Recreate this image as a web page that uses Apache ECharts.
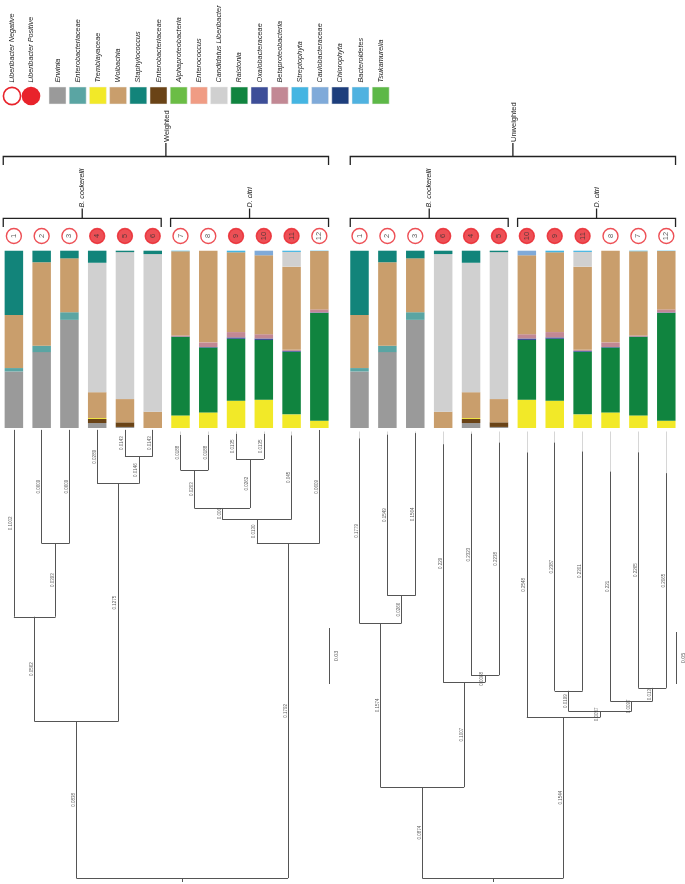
<!DOCTYPE html>
<html><head><meta charset="utf-8">
<script src="https://cdn.jsdelivr.net/npm/echarts@6/dist/echarts.min.js"></script>
<style>html,body{margin:0;padding:0;background:#fff}#c{width:685px;height:884px}</style>
</head><body><div id="c"></div>
<script>
// ---------------- DATA ----------------
const samples = ['1','2','3','4','5','6','7','8','9','10','11','12'];
const positiveSamples = ['4','5','6','9','10','11'];
const weightedOrder = ['1','2','3','4','5','6','7','8','9','10','11','12'];
const unweightedOrder = ['1','2','3','6','4','5','10','9','11','8','7','12'];

// legend order
const taxa = ['Erwinia','Enterobacteriaceae','Tremblayaceae','Wolbachia','Staphylococcus','Enterobacteriaceae ',
  'Alphaproteobacteria','Enterococcus','Candidatus Liberibacter','Ralstonia','Oxalobacteraceae','Betaproteobacteria',
  'Streptophyta','Caulobacteraceae','Chlorophyta','Bacteroidetes','Tsukamurella'];
const taxaColors = ['#9a9a9a','#5aa5a3','#f2e928','#c99e6c','#12847a','#6a4316','#6bbd45','#f09c84','#d0d0d0',
  '#10843f','#3d4e98','#c28894','#44b5e2','#7faad9','#1d3e7c','#4fb2e0','#5db847'];

// relative abundance (%), samples 1..12
const erwinia            = [31.9,42.8,61.0, 2.8, 0.6, 0,   0,   0,   0,   0,   0,   0  ];
const enterobacteriaceae = [ 1.9, 3.6, 4.3, 0,   0,   0,   0,   0,   0,   0,   0,   0  ];
const tremblayaceae      = [ 0,   0,   0,   0.5, 0,   0,   7.1, 8.8,15.4,16.0, 7.7, 4.1];
const wolbachia          = [30.0,47.1,30.4,14.6,13.1, 9.2,47.5,51.7,45.0,44.5,46.9,32.9];
const staphylococcus     = [36.2, 6.6, 4.3, 6.8, 0.8, 1.9, 0,   0,   0,   0,   0,   0  ];
const enterobacteriaceae2= [ 0,   0,   0,   2.3, 2.6, 0,   0,   0,   0,   0,   0,   0  ];
const alphaproteobacteria= [ 0,   0,   0,   0,   0,   0,   0,   0,   0,   0,   0,   0  ];
const enterococcus       = [ 0,   0,   0,   0,   0,   0,   0,   0,   0,   0,   0,   0  ];
const candLiberibacter   = [ 0,   0,   0,  73.0,82.9,88.9, 0,   0,   0,   0,   8.3, 0  ];
const ralstonia          = [ 0,   0,   0,   0,   0,   0,  44.3,36.6,34.9,33.6,35.3,60.8];
const oxalobacteraceae   = [ 0,   0,   0,   0,   0,   0,   0.2, 0.3, 0.8, 0.9, 0.5, 0.3];
const betaproteobacteria = [ 0,   0,   0,   0,   0,   0,   0.6, 2.6, 3.0, 2.4, 0.6, 1.7];
const streptophyta       = [ 0,   0,   0,   0,   0,   0,   0.3, 0,   1.0, 0,   0.7, 0.2];
const caulobacteraceae   = [ 0,   0,   0,   0,   0,   0,   0,   0,   0,   2.6, 0,   0  ];
const chlorophyta        = [ 0,   0,   0,   0,   0,   0,   0,   0,   0,   0,   0,   0  ];
const bacteroidetes      = [ 0,   0,   0,   0,   0,   0,   0,   0,   0,   0,   0,   0  ];
const tsukamurella       = [ 0,   0,   0,   0,   0,   0,   0,   0,   0,   0,   0,   0  ];

const taxaValues = [erwinia,enterobacteriaceae,tremblayaceae,wolbachia,staphylococcus,enterobacteriaceae2,
  alphaproteobacteria,enterococcus,candLiberibacter,ralstonia,oxalobacteraceae,betaproteobacteria,
  streptophyta,caulobacteraceae,chlorophyta,bacteroidetes,tsukamurella];
// stacking order, bottom to top (indices into taxa)
const stackOrder = [0,5,2,9,10,11,1,3,8,4,13,12,14,15,16,6,7];

// UPGMA trees: [node, parent, branch length, label]
const weightedTree = [
  ['root',null,0,''],
  ['Bc','root',0.0838,'0.0838'], ['Dc','root',0.1792,'0.1792'],
  ['n123','Bc',0.0562,'0.0562'], ['n456','Bc',0.1275,'0.1275'],
  ['1','n123',0.1002,'0.1002'], ['n23','n123',0.0393,'0.0393'],
  ['2','n23',0.0609,'0.0609'], ['3','n23',0.0609,'0.0609'],
  ['4','n456',0.0289,'0.0289'], ['n56','n456',0.0146,'0.0146'],
  ['5','n56',0.0143,'0.0143'], ['6','n56',0.0143,'0.0143'],
  ['nI','Dc',0.0130,'0.0130'], ['12','Dc',0.0609,'0.0609'],
  ['nH','nI',0.0061,'0.006'], ['11','nI',0.0450,'0.045'],
  ['nF','nH',0.0203,'0.0203'], ['nG','nH',0.0262,'0.0262'],
  ['7','nF',0.0188,'0.0188'], ['8','nF',0.0188,'0.0188'],
  ['9','nG',0.0135,'0.0135'], ['10','nG',0.0135,'0.0135']
];
const unweightedTree = [
  ['root',null,0,''],
  ['Bc','root',0.0874,'0.0874'], ['Dc','root',0.1544,'0.1544'],
  ['b','Bc',0.1574,'0.1574'], ['d','Bc',0.1007,'0.1007'],
  ['1','b',0.1779,'0.1779'], ['a','b',0.0266,'0.0266'],
  ['2','a',0.1549,'0.1549'], ['3','a',0.1564,'0.1564'],
  ['6','d',0.2290,'0.229'], ['c','d',0.0068,'0.0068'],
  ['4','c',0.2323,'0.2323'], ['5','c',0.2238,'0.2238'],
  ['10','Dc',0.2548,'0.2548'], ['i','Dc',0.0057,'0.0057'],
  ['f','i',0.0199,'0.0199'], ['h','i',0.0097,'0.0097'],
  ['9','f',0.2387,'0.2387'], ['11','f',0.2301,'0.2301'],
  ['8','h',0.2210,'0.221'], ['k','h',0.0130,'0.013'],
  ['7','k',0.2265,'0.2265'], ['12','k',0.2065,'0.2065']
];
const scaleBars = [0.03, 0.05];

// ---------------- LAYOUT ----------------
const FONT = 'Liberation Sans, Arial, sans-serif';
const RED = '#e8232b';
const step = 27.89;
const panels = [
  {left: 12.5 - step/2, width: step*12, order: weightedOrder, tree: weightedTree, pxPerUnit: 1866, scale: scaleBars[0], title:'Weighted'},
  {left: 359.5 - step/2, width: step*12, order: unweightedOrder, tree: unweightedTree, pxPerUnit: 1040, scale: scaleBars[1], title:'Unweighted'}
];
const barTop = 250.7, barH = 177.3, barW = 18.5;
const treeTop = 430, treeRootY = 878, treeBottom = 884, tipTopY = 431.5;

const grids = [], xAxes = [], yAxes = [], series = [], graphics = [];

function layoutTree(nodes, order) {
  const map = {};
  nodes.forEach(n => map[n[0]] = {id:n[0], parent:n[1], len:n[2], label:n[3], children:[]});
  nodes.forEach(n => { if (n[1]) map[n[1]].children.push(map[n[0]]); });
  const root = map['root'];
  (function setDepth(n, d) { n.depth = d; n.children.forEach(c => setDepth(c, d + c.len)); })(root, 0);
  (function setX(n) {
    if (!n.children.length) { n.x = order.indexOf(n.id); return n.x; }
    n.x = n.children.map(setX).reduce((a,b)=>a+b,0) / n.children.length; return n.x;
  })(root);
  return {map, root};
}

panels.forEach((p, pi) => {
  grids.push({left: p.left, top: barTop, width: p.width, height: barH});
  xAxes.push({type:'category', gridIndex: pi*3, data: p.order, show:false});
  yAxes.push({type:'value', gridIndex: pi*3, min:0, max:100, show:false});
  grids.push({left: p.left, top: 228, width: p.width, height: 16});
  xAxes.push({type:'category', gridIndex: pi*3+1, data: p.order, show:false});
  yAxes.push({type:'value', gridIndex: pi*3+1, min:0, max:1, show:false});
  const yMin = -(treeBottom - treeRootY) / p.pxPerUnit;
  const yMax = (treeRootY - treeTop) / p.pxPerUnit;
  grids.push({left: p.left, top: treeTop, width: p.width, height: treeBottom - treeTop});
  xAxes.push({type:'value', gridIndex: pi*3+2, min:-0.5, max:11.5, show:false});
  yAxes.push({type:'value', gridIndex: pi*3+2, min:yMin, max:yMax, show:false});

  const ax = pi*3;
  stackOrder.forEach(ti => {
    series.push({
      type:'bar', name: taxa[ti] + '_' + pi, stack: 'S' + pi, xAxisIndex: ax, yAxisIndex: ax,
      barWidth: barW, itemStyle: {color: taxaColors[ti]},
      data: p.order.map(s => taxaValues[ti][samples.indexOf(s)]),
      silent: true, animation: false
    });
  });
  series.push({
    type:'scatter', xAxisIndex: ax+1, yAxisIndex: ax+1, symbolSize: 15, clip:false, animation:false,
    data: p.order.map(s => {
      const pos = positiveSamples.includes(s);
      return {value:[s, 0.5], name: s, itemStyle: {color: pos ? RED : '#fff', borderColor: RED, borderWidth: 1.4}};
    }),
    label: {show:true, position:'inside', formatter: d => d.name, rotate: 90, fontSize: 7.5, color:'#333', fontFamily: FONT}
  });

  const {map, root} = layoutTree(p.tree, p.order);
  const segs = [], ext = [], labels = [];
  Object.values(map).forEach(n => {
    if (n.parent) {
      const par = map[n.parent];
      segs.push({coords: [[n.x, par.depth], [n.x, n.depth]]});
      if (n.label) labels.push({value: [n.x - 0.1, (par.depth + n.depth)/2], name: n.label});
    }
    if (n.children.length) {
      const xs = n.children.map(c => c.x);
      segs.push({coords: [[Math.min(...xs), n.depth], [Math.max(...xs), n.depth]]});
    } else {
      ext.push({coords: [[n.x, n.depth], [n.x, (treeRootY - tipTopY)/p.pxPerUnit]]});
    }
  });
  segs.push({coords: [[root.x, 0], [root.x, -(4 / p.pxPerUnit)]]});
  const sbY0 = (treeRootY - 684) / p.pxPerUnit;
  segs.push({coords: [[11.35, sbY0], [11.35, sbY0 + p.scale]]});
  labels.push({value: [11.62, sbY0 + p.scale/2], name: p.scale.toFixed(2), big: true});

  series.push({type:'lines', coordinateSystem:'cartesian2d', xAxisIndex: ax+2, yAxisIndex: ax+2, animation:false, silent:true,
    lineStyle: {color:'#d6d6d6', width:1, opacity:1}, data: ext});
  series.push({type:'lines', coordinateSystem:'cartesian2d', xAxisIndex: ax+2, yAxisIndex: ax+2, animation:false, silent:true,
    lineStyle: {color:'#555', width:1, opacity:1}, data: segs});
  series.push({type:'scatter', xAxisIndex: ax+2, yAxisIndex: ax+2, clip:false, animation:false, silent:true,
    symbolSize: 1, itemStyle: {color:'rgba(0,0,0,0)'},
    data: labels.map(l => ({value: l.value, name: l.name, label: {fontSize: l.big ? 5.5 : 4.5}})),
    label: {show:true, position:'inside', rotate: 90, formatter: d => d.name, color:'#333', fontFamily: FONT}
  });

  const cx = i => p.left + (i + 0.5) * step;
  const edgeL = i => cx(i) - barW/2, edgeR = i => cx(i) + barW/2;
  const line = (pts, w) => graphics.push({type:'polyline', shape:{points: pts}, style:{stroke:'#222', lineWidth: w || 1.3, fill: null}, silent:true});
  const vtext = (x, y, t, size, italic) => graphics.push({type:'text', x, y, rotation: Math.PI/2, silent:true,
    style:{text: t, fill:'#222', font: (italic ? 'italic ' : '') + size + 'px ' + FONT, align:'left', verticalAlign:'middle'}});
  const y1 = 156.5, y2 = 218.3;
  line([[edgeL(0), 165], [edgeL(0), y1], [edgeR(11), y1], [edgeR(11), 165]]);
  const m1 = (edgeL(0) + edgeR(11)) / 2;
  line([[m1, y1], [m1, 143]]);
  vtext(m1 + 1, 142, p.title, 7.5, false);
  [[0,5,'B. cockerelli'],[6,11,'D. citri']].forEach(([a, b, t]) => {
    line([[edgeL(a), 227], [edgeL(a), y2], [edgeR(b), y2], [edgeR(b), 227]]);
    const m = (edgeL(a) + edgeR(b)) / 2;
    line([[m, y2], [m, 208.5]]);
    vtext(m, 207.5, t, 7.2, true);
  });
});

const legendText = (x, t) => graphics.push({type:'text', x, y: 82.5, rotation: Math.PI/2, silent:true,
  style:{text: t, fill:'#222', font:'italic 7.3px ' + FONT, align:'left', verticalAlign:'middle'}});
graphics.push({type:'circle', shape:{cx:12, cy:96, r:8.6}, style:{fill:'#fff', stroke: RED, lineWidth:1.6}, silent:true});
graphics.push({type:'circle', shape:{cx:31, cy:96, r:9.3}, style:{fill: RED}, silent:true});
legendText(12, 'Liberibacter Negative');
legendText(31, 'Liberibacter Positive');
taxa.forEach((t, i) => {
  const x = 49 + 20.2 * i;
  graphics.push({type:'rect', shape:{x, y:87, width:17, height:17}, style:{fill: taxaColors[i], stroke:'#eee', lineWidth:0.5}, silent:true});
  legendText(x + 8.5, t.trim());
});

const chart = echarts.init(document.getElementById('c'), null, {renderer:'canvas'});
chart.setOption({
  animation: false,
  backgroundColor: '#fff',
  grid: grids, xAxis: xAxes, yAxis: yAxes, series: series,
  graphic: graphics
});
</script></body></html>
